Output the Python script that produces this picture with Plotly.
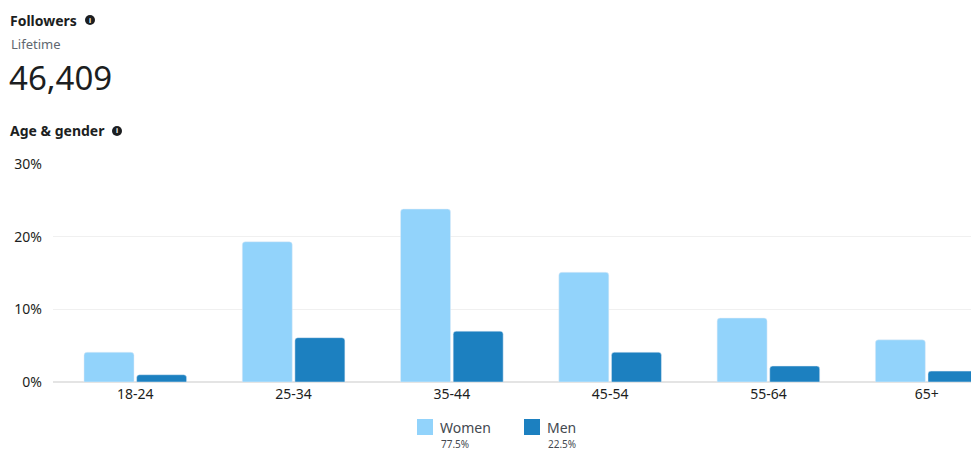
import plotly.graph_objects as go

age_groups = ["18-24", "25-34", "35-44", "45-54", "55-64", "65+"]
women = [4.1, 19.3, 23.8, 15.1, 8.8, 5.8]
men = [1.0, 6.1, 7.0, 4.1, 2.2, 1.5]
y_ticks = [0, 10, 20, 30]
y_tick_labels = ["0%", "10%", "20%", "30%"]
total_followers = "46,409"
women_share = "77.5%"
men_share = "22.5%"

W, H = 971, 450
L, R, T, B = 53, 0, 164, 68
PW, PH = W - L - R, H - T - B

def px(x):
    return (x - L) / PW

def py(y):
    return (H - B - y) / PH

WOMEN_C = "#92d3fb"
MEN_C = "#1c80c0"
FONT = "Noto Sans"

fig = go.Figure()
fig.add_trace(go.Bar(x=age_groups, y=women, name="Women", marker=dict(color=WOMEN_C, cornerradius=3)))
fig.add_trace(go.Bar(x=age_groups, y=men, name="Men", marker=dict(color=MEN_C, cornerradius=3)))

anns = []
def txt(x, y, s, size, color="#1c1e21", bold=False, anchor="left"):
    anns.append(dict(xref="paper", yref="paper", x=px(x), y=py(y), text=("<b>%s</b>" % s) if bold else s,
                     showarrow=False, xanchor=anchor, yanchor="middle",
                     font=dict(family=FONT, size=size, color=color)))

txt(8, 20, "Followers", 14, bold=True)
txt(9, 44, "Lifetime", 13, color="#606770")
txt(7, 77, total_followers, 33)
txt(8, 130, "Age & gender", 14, bold=True)
txt(438, 427, "Women", 14, color="#444950")
txt(439, 444, women_share, 10, color="#444950")
txt(545, 427, "Men", 14, color="#444950")
txt(546, 444, men_share, 10, color="#444950")

shapes = []
def circ(cx, cy, r):
    shapes.append(dict(type="circle", xref="paper", yref="paper", x0=px(cx - r), x1=px(cx + r),
                       y0=py(cy + r), y1=py(cy - r), fillcolor="#1c1e21", line=dict(width=0)))
def rect(x0, y0, x1, y1, c):
    shapes.append(dict(type="rect", xref="paper", yref="paper", x0=px(x0), x1=px(x1),
                       y0=py(y1), y1=py(y0), fillcolor=c, line=dict(width=0)))

circ(90, 20, 5)
circ(117, 131, 5)
txt(90, 20, "<b>i</b>", 7, color="white", anchor="center")
txt(117, 131, "<b>i</b>", 7, color="white", anchor="center")
rect(417, 419, 433, 435, WOMEN_C)
rect(524, 419, 540, 435, MEN_C)

fig.update_layout(
    width=W, height=H,
    margin=dict(l=L, r=R, t=T, b=B),
    paper_bgcolor="white", plot_bgcolor="white",
    barmode="group", bargap=0.335, bargroupgap=0.05,
    showlegend=False,
    font=dict(family=FONT, size=14, color="#1c1e21"),
    annotations=anns, shapes=shapes,
    xaxis=dict(range=[-0.52, 5.28], showgrid=False, showline=False, ticks="",
               tickfont=dict(size=14, color="#1c1e21"), ticklabelstandoff=2),
    yaxis=dict(range=[0, 30], tickvals=y_ticks, ticktext=y_tick_labels, showgrid=True,
               gridcolor="#f0f0f0", gridwidth=1, zeroline=True, zerolinecolor="#e4e4e4",
               showline=False, ticks="", ticklabelstandoff=10,
               tickfont=dict(size=14, color="#1c1e21")),
)
fig.write_html("out.html", config={"displayModeBar": False},
               post_script="document.body.style.margin='0';document.body.style.overflow='hidden';")
